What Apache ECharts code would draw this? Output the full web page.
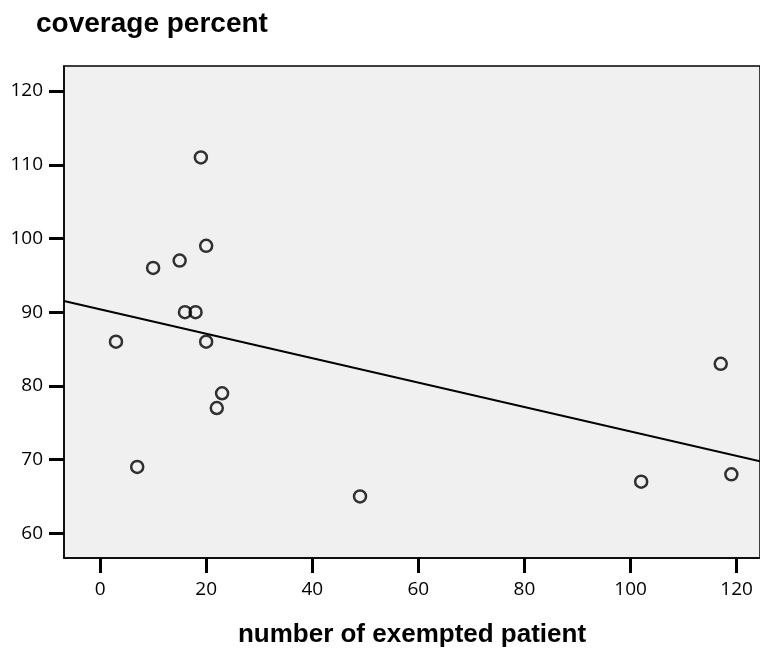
<!DOCTYPE html>
<html>
<head>
<meta charset="utf-8">
<script src="https://cdn.jsdelivr.net/npm/echarts@6/dist/echarts.min.js"></script>
<style>
  html, body { margin: 0; padding: 0; background: #fff; }
  #main { width: 760px; height: 650px; }
</style>
</head>
<body>
<div id="main"></div>
<script>
// number of exempted patient
var exempted = [3, 7, 10, 15, 16, 18, 19, 20, 20, 22, 23, 49, 102, 117, 119];
// coverage percent
var coverage = [86, 69, 96, 97, 90, 90, 111, 99, 86, 77, 79, 65, 67, 83, 68];
var xTicks = [0, 20, 40, 60, 80, 100, 120];
var yTicks = [60, 70, 80, 90, 100, 110, 120];

var xMin = -6.8, xMax = 124.4;
var yMin = 56.65, yMax = 123.4;

// 线性回归
var n = exempted.length, mx = 0, my = 0;
for (var i = 0; i < n; i++) { mx += exempted[i]; my += coverage[i]; }
mx /= n; my /= n;
var sxy = 0, sxx = 0;
for (var i = 0; i < n; i++) {
    sxy += (exempted[i] - mx) * (coverage[i] - my);
    sxx += (exempted[i] - mx) * (exempted[i] - mx);
}
var slope = sxy / sxx, icpt = my - slope * mx;
var fitLine = [[xMin, icpt + slope * xMin], [xMax, icpt + slope * xMax]];

var pts = [];
for (var i = 0; i < n; i++) pts.push([exempted[i], coverage[i]]);

var myChart = echarts.init(document.getElementById('main'));
var labelFont = 'Open Sans';
var option = {
    animation: false,
    title: {
        text: 'coverage percent',
        left: 31, top: 5,
        textStyle: { fontFamily: 'Liberation Sans', fontWeight: 'bold', fontSize: 28, color: '#000' }
    },
    grid: {
        left: 64, top: 66, right: 0, bottom: 92,
        outerBoundsMode: 'none', containLabel: false,
        show: true, backgroundColor: '#f0f0f0', borderColor: '#000', borderWidth: 1.5
    },
    xAxis: {
        type: 'value', min: xMin, max: xMax,
        name: 'number of exempted patient', nameLocation: 'middle', nameGap: 64,
        nameTextStyle: { fontFamily: 'Liberation Sans', fontWeight: 'bold', fontSize: 26, color: '#000' },
        axisLine: { onZero: false, lineStyle: { color: '#000', width: 1.5 } },
        axisTick: { customValues: xTicks, length: 15, lineStyle: { color: '#000', width: 3 } },
        axisLabel: { customValues: xTicks, margin: 22, fontFamily: labelFont, fontSize: 19, color: '#000' },
        splitLine: { show: false }
    },
    yAxis: {
        type: 'value', min: yMin, max: yMax,
        axisLine: { show: true, onZero: false, lineStyle: { color: '#000', width: 1.5 } },
        axisTick: { show: true, customValues: yTicks, length: 15, lineStyle: { color: '#000', width: 3 } },
        axisLabel: { customValues: yTicks, margin: 21, fontFamily: labelFont, fontSize: 19, color: '#000' },
        splitLine: { show: false }
    },
    series: [
        {
            type: 'line', data: fitLine, symbol: 'none', silent: true,
            lineStyle: { color: '#000', width: 2 }
        },
        {
            type: 'scatter', data: pts, symbol: 'circle', symbolSize: 12,
            itemStyle: { color: 'rgba(0,0,0,0)', borderColor: '#000', borderWidth: 2.5 }
        }
    ]
};
myChart.setOption(option);
</script>
</body>
</html>
